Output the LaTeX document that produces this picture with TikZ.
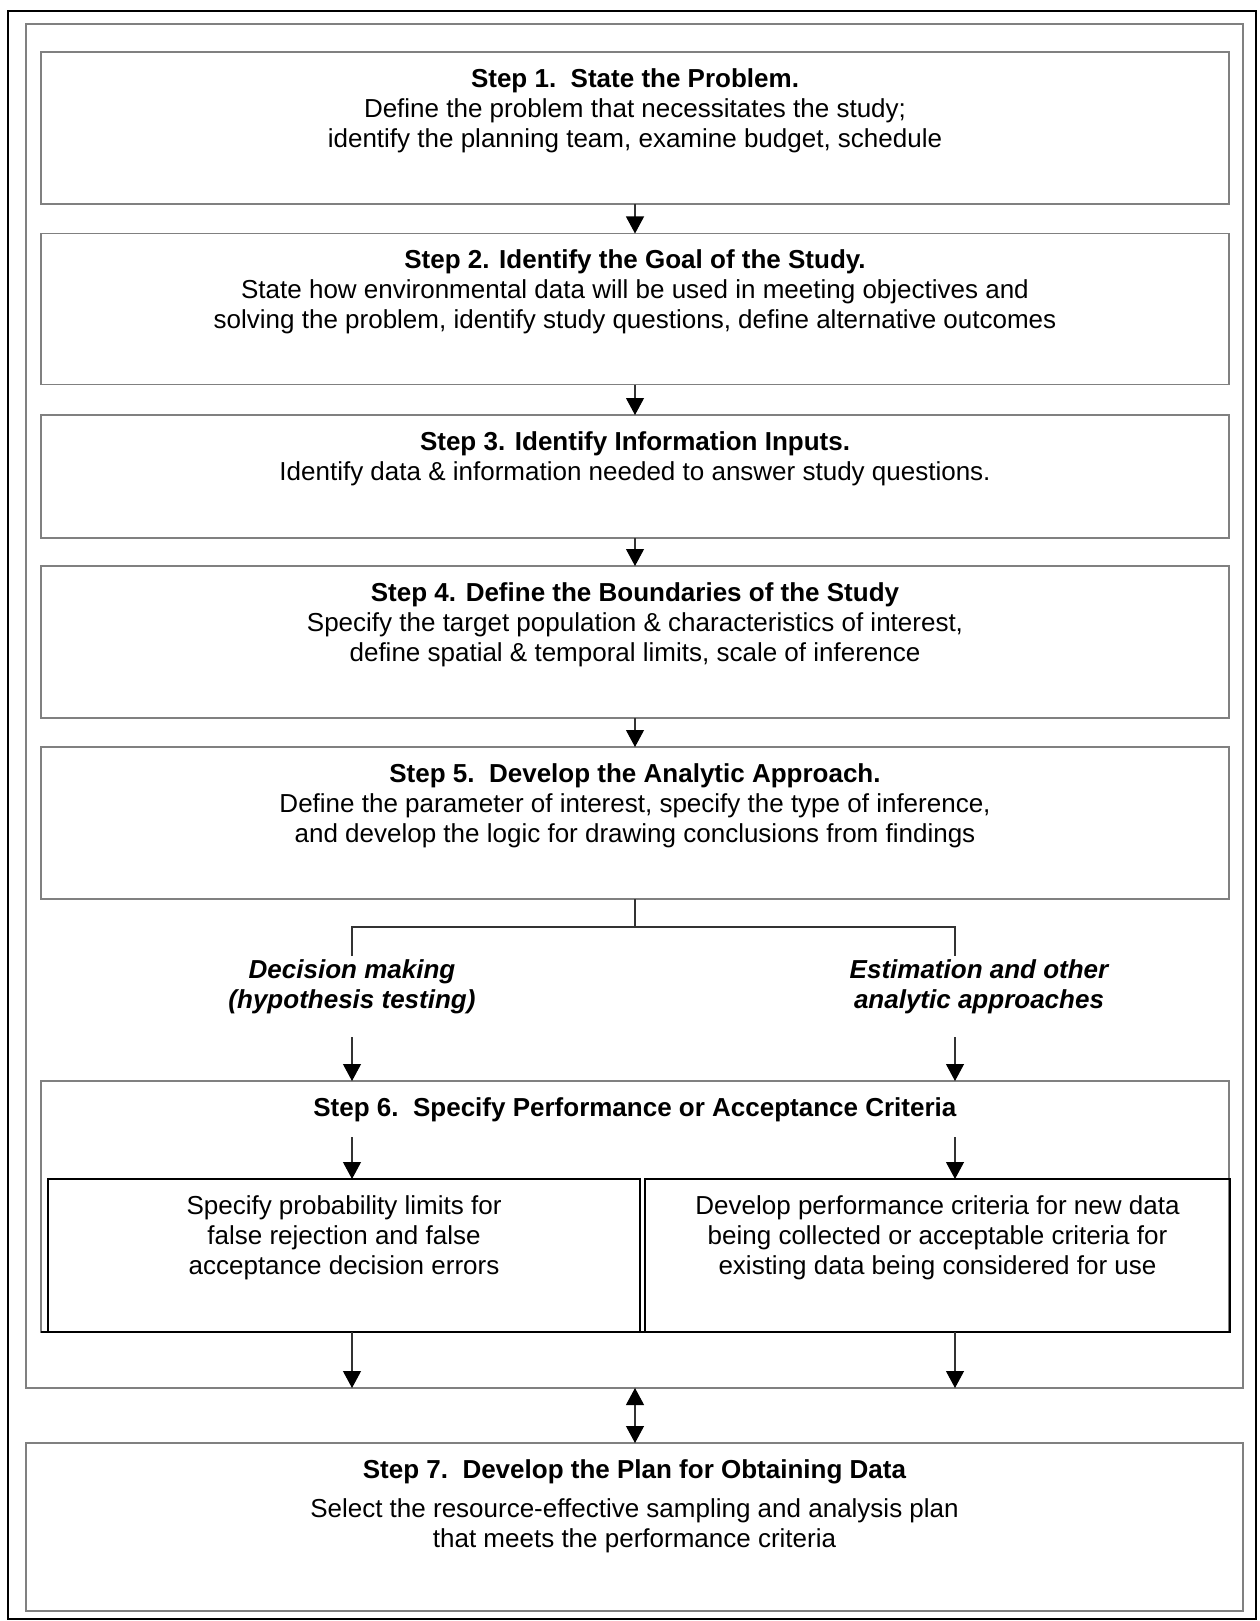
\documentclass[tikz,border=0pt]{standalone}
\usepackage{fontspec}
\setmainfont{Liberation Sans}
\usetikzlibrary{positioning,arrows.meta}

\tikzset{
  flowhead/.tip={Triangle[length=8.5pt,width=9pt,color=black]},
  frame/.style={draw=black!50, line width=0.8pt, inner sep=0pt, outer sep=0pt},
  stepbox/.style={draw=black!50, line width=0.7pt, inner sep=0pt, outer sep=0pt, minimum width=594pt},
  subbox/.style={draw=black, line width=0.6pt, inner sep=0pt, outer sep=0pt, minimum height=76.5pt},
  steptext/.style={align=center, inner sep=0pt, font=\fontsize{13}{15}\selectfont},
  branchtext/.style={align=center, inner sep=0pt, font=\fontsize{13}{15}\selectfont\bfseries\itshape},
  link/.style={draw=black!80, line width=0.55pt},
  arr/.style={link, -flowhead}
}

\begin{document}
\begin{tikzpicture}[x=0.5pt,y=-0.5pt]
\useasboundingbox (0,0) rectangle (1259,1621);

% frames
\node[draw=black, line width=1.3pt, inner sep=0pt, minimum width=624pt, minimum height=804pt] (page) at (632,815) {};
\node[frame, minimum width=608.5pt, minimum height=682pt] (group) at (634.5,706) {};

% steps 1-5
\node[stepbox, minimum height=76pt]   (s1) at (635,128) {};
\node[stepbox, minimum height=75.5pt] (s2) at (635,309) {};
\node[stepbox, minimum height=61.5pt] (s3) at (635,476.5) {};
\node[stepbox, minimum height=76pt]   (s4) at (635,642) {};
\node[stepbox, minimum height=76pt]   (s5) at (635,823) {};

\node[steptext, below=8pt of s1.north] (t1) {\textbf{Step 1.\ \ State the Problem.}\\
  Define the problem that necessitates the study;\\
  identify the planning team, examine budget, schedule};
\node[steptext, below=8pt of s2.north] (t2) {\textbf{Step 2. Identify the Goal of the Study.}\\
  State how environmental data will be used in meeting objectives and\\
  solving the problem, identify study questions, define alternative outcomes};
\node[steptext, below=8pt of s3.north] (t3) {\textbf{Step 3. Identify Information Inputs.}\\
  Identify data \& information needed to answer study questions.};
\node[steptext, below=8pt of s4.north] (t4) {\textbf{Step 4. Define the Boundaries of the Study}\\
  Specify the target population \& characteristics of interest,\\
  define spatial \& temporal limits, scale of inference};
\node[steptext, below=8pt of s5.north] (t5) {\textbf{Step 5.\ \ Develop the Analytic Approach.}\\
  Define the parameter of interest, specify the type of inference,\\
  and develop the logic for drawing conclusions from findings};

\draw[arr] (s1.south) -- (s2.north);
\draw[arr] (s2.south) -- (s3.north);
\draw[arr] (s3.south) -- (s4.north);
\draw[arr] (s4.south) -- (s5.north);

% branch
\coordinate (fork) at (635,927);
\coordinate (jL) at (352,927);
\coordinate (jR) at (955,927);
\coordinate (eL) at (352,956);
\coordinate (eR) at (955,956);
\coordinate (aL) at (352,1037);
\coordinate (aR) at (955,1037);
\draw[link] (s5.south) -- (fork);
\draw[link] (eL) -- (jL) -- (jR) -- (eR);

\node[branchtext] (dm) at (352,987) {Decision making\\(hypothesis testing)};
\node[branchtext] (est) at (979,987) {Estimation and other\\analytic approaches};

% step 6
\node[stepbox, minimum height=125.5pt] (s6) at (635,1206.5) {};
\draw[black, line width=0.6pt] (s6.south west) -- (s6.south east);
\node[steptext, below=8pt of s6.north] (t6) {\textbf{Step 6.\ \ Specify Performance or Acceptance Criteria}};

\node[subbox, minimum width=296pt]   (c6L) at (344,1255.5) {};
\node[subbox, minimum width=292.5pt] (c6R) at (937.5,1255.5) {};
\node[steptext, below=8pt of c6L.north] {Specify probability limits for\\
  false rejection and false\\acceptance decision errors};
\node[steptext, below=8pt of c6R.north] {Develop performance criteria for new data\\
  being collected or acceptable criteria for\\existing data being considered for use};

\draw[arr] (aL) -- (aL |- s6.north);
\draw[arr] (aR) -- (aR |- s6.north);
\coordinate (bL) at (352,1137);
\coordinate (bR) at (955,1137);
\draw[arr] (bL) -- (bL |- c6L.north);
\draw[arr] (bR) -- (bR |- c6R.north);
\draw[arr] (bL |- c6L.south) -- (bL |- group.south);
\draw[arr] (bR |- c6R.south) -- (bR |- group.south);

% step 7
\node[frame, minimum width=608.5pt, minimum height=84pt] (s7) at (634.5,1527) {};
\node[steptext, below=8pt of s7.north] (t7) {\textbf{Step 7.\ \ Develop the Plan for Obtaining Data}\\[4.5pt]
  Select the resource-effective sampling and analysis plan\\
  that meets the performance criteria};

\draw[link, flowhead-flowhead] (group.south -| s1.south) -- (s7.north -| s1.south);
\end{tikzpicture}
\end{document}
